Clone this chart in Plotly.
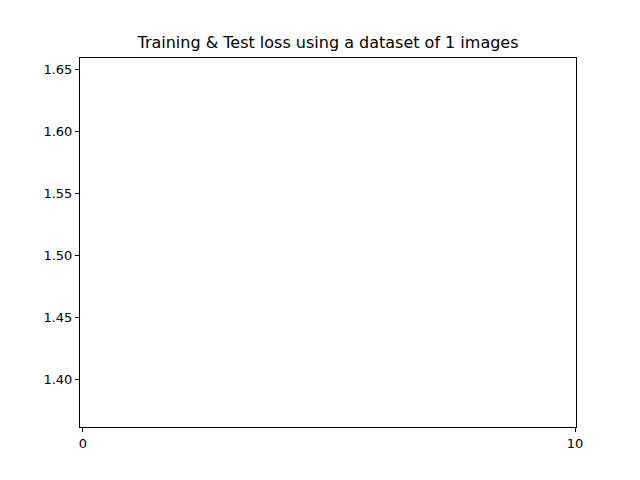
import plotly.graph_objects as go

n_images = 1
epochs = []
train_loss = []
test_loss = []
x_ticks = [0, 10]
y_ticks = [1.40, 1.45, 1.50, 1.55, 1.60, 1.65]

fig = go.Figure()
fig.add_trace(go.Scatter(x=epochs, y=train_loss, mode="lines", name="Training loss", line=dict(color="#1f77b4")))
fig.add_trace(go.Scatter(x=epochs, y=test_loss, mode="lines", name="Test loss", line=dict(color="#ff7f0e")))

axis_style = dict(showline=True, linecolor="black", linewidth=1, mirror=True, showgrid=False,
                  zeroline=False, ticks="outside", ticklen=4, tickcolor="black",
                  tickfont=dict(size=13, color="black"))

fig.update_layout(
    width=640, height=480,
    title=dict(text=f"Training & Test loss using a dataset of {n_images} images",
               x=0.5, xanchor="center", y=0.928, yanchor="middle",
               font=dict(size=16, color="black")),
    font=dict(family="DejaVu Sans"),
    plot_bgcolor="white", paper_bgcolor="white",
    showlegend=False,
    margin=dict(l=72, r=72, t=50, b=61),
    xaxis=dict(range=[-0.06, 10.02], tickvals=x_ticks, **axis_style),
    yaxis=dict(range=[1.3613, 1.6589], tickvals=y_ticks, tickformat=".2f", **axis_style),
)

fig.write_html("out.html")
